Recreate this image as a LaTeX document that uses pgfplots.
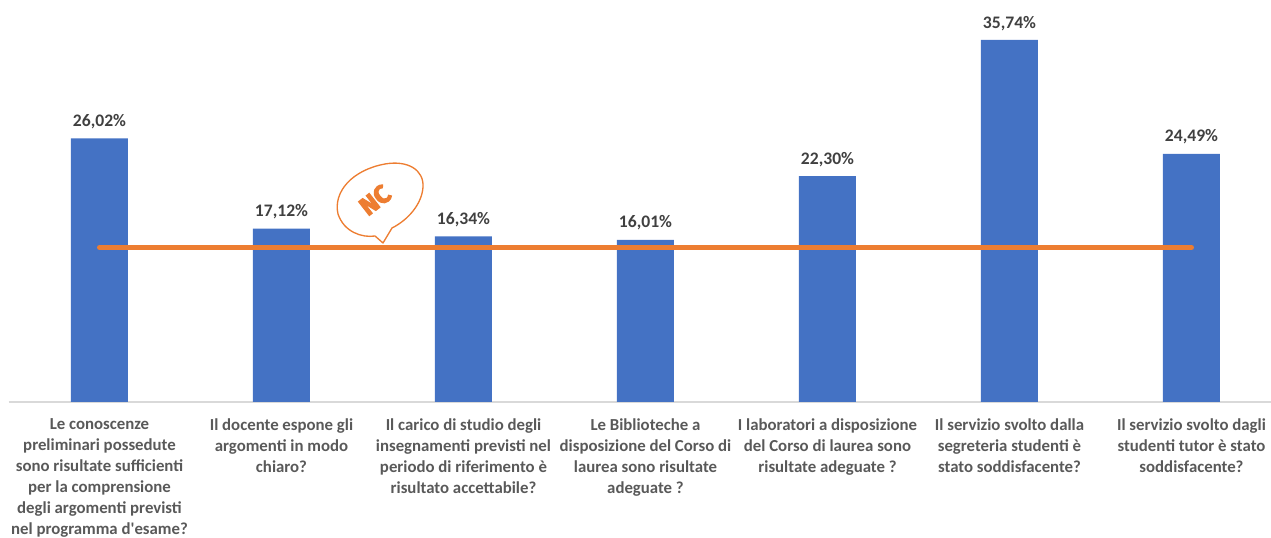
\documentclass[border=0pt]{standalone}
\usepackage{fontspec}
\setmainfont{Carlito}
\newfontfamily\badge[BoldFeatures={FakeBold=4}]{Fira Sans}
\usepackage{pgfplots}
\pgfplotsset{compat=1.18}
\definecolor{barblue}{HTML}{4472C4}
\definecolor{lineorange}{HTML}{ED7D31}
\definecolor{axisgray}{HTML}{D9D9D9}
\definecolor{ticktext}{HTML}{595959}
\definecolor{valtext}{HTML}{404040}

\begin{document}
\begin{tikzpicture}[x=0.75pt,y=0.75pt]
    % page = 1271x538 px, 1 px = 0.75pt, y counted from the bottom
    \path[use as bounding box] (0,0) rectangle (1271,538);
    \begin{axis}[
        at={(8.5*0.75pt,136*0.75pt)},
        anchor=south west,
        scale only axis,
        width=1262.5*0.75pt,
        height=402*0.75pt,
        xmin=-0.5, xmax=6.437,
        ymin=0, ymax=39.68,
        clip=false,
        axis x line=bottom,
        axis y line=none,
        axis line style={-,draw=axisgray,line width=1.1pt},
        major tick length=0pt,
        xtick={0,1,2,3,4,5,6},
        xticklabels={
            {Le conoscenze\\preliminari possedute\\sono risultate sufficienti\\per la comprensione\\degli argomenti previsti\\nel programma d\textquotesingle esame?},
            {Il docente espone gli\\argomenti in modo\\chiaro?},
            {Il carico di studio degli\\insegnamenti previsti nel\\periodo di riferimento è\\risultato accettabile?},
            {Le Biblioteche a\\disposizione del Corso di\\laurea sono risultate\\adeguate ?},
            {I laboratori a disposizione\\del Corso di laurea sono\\risultate adeguate ?},
            {Il servizio svolto dalla\\segreteria studenti è\\stato soddisfacente?},
            {Il servizio svolto dagli\\studenti tutor è stato\\soddisfacente?}
        },
        xticklabel style={
            align=center, anchor=north, yshift=-9pt,
            font=\fontsize{12.6}{15.75}\selectfont\bfseries, text=ticktext
        },
        /pgf/number format/assume math mode=true,
    ]
    \addplot[
        ybar, bar width=42.75pt, fill=barblue, draw=none,
        nodes near coords={\pgfmathprintnumber[use comma,fixed,fixed zerofill,precision=2,assume math mode=true]{\pgfplotspointmeta}\%},
        nodes near coords style={font=\fontsize{13.2}{15}\selectfont\bfseries, text=valtext, anchor=south, yshift=3.6pt},
    ] coordinates {(0,26.02) (1,17.12) (2,16.34) (3,16.01) (4,22.30) (5,35.74) (6,24.49)};
    \addplot[lineorange, line width=3.75pt, line cap=round, mark=none]
        coordinates {(0,15.25) (1,15.25) (2,15.25) (3,15.25) (4,15.25) (5,15.25) (6,15.25)};
    \end{axis}
    % speech bubble, coordinates in px with y flipped
    \begin{scope}[y=-0.75pt,yshift=538*0.75pt]
        \draw[lineorange, line width=1pt, line join=round, fill=white]
            (383,243) -- (375,236)
            .. controls (362,238) and (344,232) .. (338,214)
            .. controls (333,192) and (352,170) .. (385,164)
            .. controls (408,160) and (424,170) .. (423,187)
            .. controls (422,204) and (408,220) .. (392,228)
            -- cycle;
        \node[rotate=38, text=lineorange, inner sep=0pt, font=\badge\fontsize{19}{19}\selectfont\bfseries]
            at (375,200) {NC};
    \end{scope}
\end{tikzpicture}
\end{document}
